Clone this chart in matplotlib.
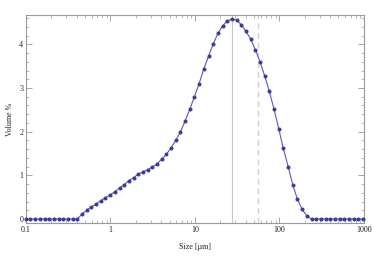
import matplotlib
matplotlib.use("Agg")
import matplotlib.pyplot as plt
from matplotlib.ticker import FixedLocator, FixedFormatter, LogLocator, NullFormatter, MultipleLocator

# particle size bins [um] and volume %
size = [0.0995, 0.113, 0.128, 0.146, 0.166, 0.188, 0.214, 0.243, 0.276, 0.314,
        0.357, 0.405, 0.460, 0.523, 0.594, 0.675, 0.767, 0.872, 0.991, 1.13,
        1.28, 1.45, 1.65, 1.88, 2.13, 2.42, 2.75, 3.12, 3.55, 4.03,
        4.58, 5.21, 5.92, 6.72, 7.64, 8.68, 9.86, 11.2, 12.7, 14.5,
        16.4, 18.7, 21.2, 24.1, 27.4, 31.1, 35.3, 40.1, 45.6, 51.8,
        58.9, 66.9, 76.0, 86.4, 98.1, 111, 127, 144, 163, 186,
        211, 240, 272, 310, 352, 400, 454, 516, 586, 666,
        756, 859, 976]
volume = [0, 0, 0, 0, 0, 0, 0, 0, 0, 0,
          0, 0, 0.115, 0.20, 0.28, 0.34, 0.42, 0.49, 0.55, 0.63,
          0.71, 0.79, 0.88, 0.95, 1.03, 1.08, 1.13, 1.19, 1.26, 1.37,
          1.48, 1.63, 1.80, 1.99, 2.24, 2.51, 2.80, 3.10, 3.43, 3.73,
          4.00, 4.25, 4.42, 4.53, 4.58, 4.55, 4.45, 4.30, 4.12, 3.88,
          3.60, 3.28, 2.92, 2.51, 2.07, 1.62, 1.20, 0.78, 0.46, 0.22,
          0.075, 0, 0, 0, 0, 0, 0, 0, 0, 0,
          0, 0, 0]

mode_size = 27.4
d90_size = 55.7

xticks = [0.1, 1, 10, 100, 1000]
xlabels = ["0.1", "1", "10", "100", "1000"]
yticks = [0, 1, 2, 3, 4]

plt.rcParams['font.family'] = ['Liberation Serif', 'DejaVu Serif']
plt.rcParams['font.size'] = 5.8

fig = plt.figure(figsize=(3.74, 2.57), dpi=100)
ax = fig.add_axes([0.0695, 0.1323, 0.9035, 0.8093])

frame = '#999999'
ax.axvline(mode_size, color='#c8c8c8', lw=0.8, zorder=1)
ax.axvline(d90_size, color='#d0d0d0', lw=1.0, ls=(0, (4, 3)), zorder=1)

ax.plot(size, volume, color='#5a5ab4', lw=0.8, marker='o', ms=1.9,
        mfc='#3d3d99', mec='#3d3d99', clip_on=False, zorder=3)

ax.set_xscale('log')
ax.set_xlim(0.1, 1000)
ax.set_ylim(-0.09, 4.67)

ax.xaxis.set_major_locator(FixedLocator(xticks))
ax.xaxis.set_major_formatter(FixedFormatter(xlabels))
ax.xaxis.set_minor_locator(LogLocator(base=10, subs=range(2, 10), numticks=20))
ax.xaxis.set_minor_formatter(NullFormatter())
ax.yaxis.set_major_locator(FixedLocator(yticks))
ax.yaxis.set_minor_locator(MultipleLocator(0.2))

for s in ax.spines.values():
    s.set_color(frame)
    s.set_linewidth(0.8)

ax.tick_params(which='both', direction='in', top=True, right=True, colors=frame,
               labelcolor='#222222', pad=2)
ax.tick_params(which='major', length=4, width=0.6)
ax.tick_params(which='minor', length=2, width=0.5)

ax.set_xlabel('Size [µm]', color='#222222', labelpad=7)
ax.set_ylabel('Volume %', color='#222222', labelpad=4)

fig.savefig('out.png', dpi=100)
